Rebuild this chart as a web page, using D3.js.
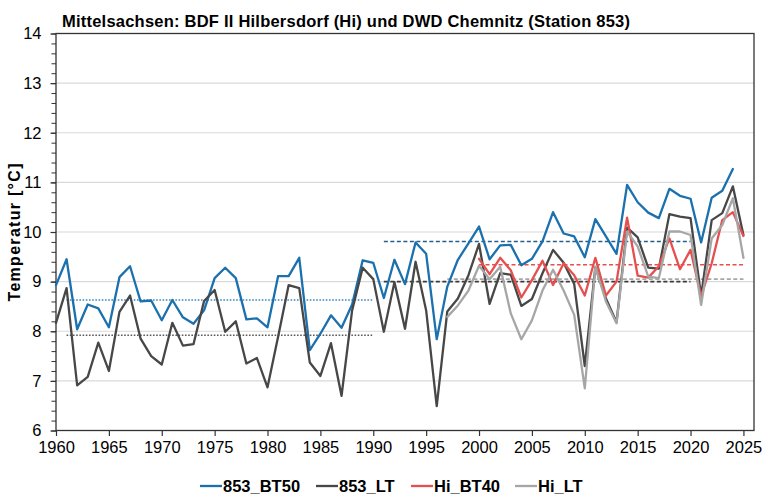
<!DOCTYPE html>
<html><head><meta charset="utf-8">
<script src="https://cdn.jsdelivr.net/npm/d3@7/dist/d3.min.js"></script>
<style>
html,body{margin:0;padding:0;background:#fff;}
svg text{font-family:"Liberation Sans",Arial,sans-serif;fill:#000;}
</style></head>
<body><svg id="c" width="780" height="504"></svg>
<script>
const titleText = "Mittelsachsen: BDF II Hilbersdorf (Hi) und DWD Chemnitz (Station 853)";
const yLabel = "Temperatur [°C]";
const yTicks = [6,7,8,9,10,11,12,13,14];
const xTicks = [1960,1965,1970,1975,1980,1985,1990,1995,2000,2005,2010,2015,2020,2025];

const seriesNames = ["853_BT50","853_LT","Hi_BT40","Hi_LT"];
const seriesStart = [1960,1960,2000,1997];
const bt50_853 = [8.93,9.45,8.04,8.54,8.46,8.08,9.09,9.31,8.60,8.62,
  8.22,8.63,8.28,8.15,8.42,9.07,9.28,9.07,8.24,8.26,
  8.08,9.11,9.11,9.48,7.62,7.95,8.32,8.07,8.54,9.43,
  9.38,8.67,9.44,8.95,9.79,9.56,7.84,8.90,9.44,9.77,
  10.11,9.45,9.73,9.74,9.33,9.46,9.81,10.40,9.97,9.91,
  9.49,10.26,9.91,9.56,10.95,10.60,10.39,10.28,10.87,10.73,
  10.67,9.79,10.69,10.83,11.27];
const lt_853 = [8.17,8.87,6.91,7.08,7.77,7.20,8.39,8.72,7.85,7.50,
  7.33,8.17,7.71,7.74,8.61,8.83,7.99,8.20,7.35,7.46,
  6.87,7.89,8.93,8.87,7.37,7.10,7.76,6.70,8.42,9.28,
  9.05,7.99,8.99,8.05,9.40,8.42,6.49,8.40,8.66,9.13,
  9.76,8.55,9.17,9.14,8.51,8.65,9.17,9.64,9.38,8.95,
  7.30,9.29,8.66,8.18,10.09,9.89,9.28,9.26,10.36,10.31,
  10.28,8.71,10.24,10.38,10.92,9.94];
const bt40_hi = [9.46,9.15,9.48,9.23,8.68,9.03,9.42,8.93,9.37,9.13,
  8.72,9.48,8.72,9.00,10.29,9.12,9.08,9.31,9.87,9.25,
  9.64,8.70,9.37,10.24,10.40,9.92];
const lt_hi = [8.29,8.52,8.82,9.32,9.05,9.30,8.36,7.84,8.22,8.82,
  9.24,8.82,8.33,6.85,9.30,8.60,8.16,10.01,9.71,9.10,
  9.07,10.01,10.01,9.94,8.53,9.87,10.14,10.68,9.48];

// reference-period means
const refSeries = ["853_BT50","853_LT","853_BT50","853_LT","Hi_BT40","Hi_LT"];
const refStart  = [1961,1961,1991,1991,2000,1997];
const refEnd    = [1990,1990,2020,2020,2025,2025];
const refValue  = [8.63,7.92,9.81,9.00,9.34,9.05];

const seriesValues = [bt50_853, lt_853, bt40_hi, lt_hi];
const colors = {"853_BT50":"#1b70ae","853_LT":"#474747","Hi_BT40":"#e5504f","Hi_LT":"#a6a6a6"};
const refStyle = [
  {color:"#3a86bf", dash:"1.6,1.6", w:1.4},
  {color:"#5a5a5a", dash:"1.6,1.6", w:1.4},
  {color:"#245f8c", dash:"4,2.5", w:1.6},
  {color:"#3a3a3a", dash:"4,2.5", w:1.6},
  {color:"#e5504f", dash:"4,2.5", w:1.6},
  {color:"#a6a6a6", dash:"4,2.5", w:1.6}
];

const svg = d3.select("#c");
const L=56, R=754, T=33.5, B=430.5;
const x = d3.scaleLinear().domain([1960,2026]).range([L,R]);
const y = d3.scaleLinear().domain([6,14]).range([B,T]);

// gridlines
svg.append("g").selectAll("line").data(yTicks.filter(v=>v>6 && v<14)).join("line")
  .attr("x1",L).attr("x2",R).attr("y1",d=>y(d)).attr("y2",d=>y(d))
  .attr("stroke","#d9d9d9").attr("stroke-width",1.2);

// y axis
const yMinor = d3.range(6,14.001,0.2).map(v=>+v.toFixed(1));
const yAx = svg.append("g").attr("transform",`translate(${L},0)`)
  .call(d3.axisLeft(y).tickValues(yMinor).tickSize(4.5).tickFormat(""));
yAx.select(".domain").remove();
yAx.selectAll("line").attr("stroke","#333").attr("stroke-width",1);
const yAx2 = svg.append("g").attr("transform",`translate(${L},0)`)
  .call(d3.axisLeft(y).tickValues(yTicks).tickSize(5.5).tickPadding(9).tickFormat(d3.format("d")));
yAx2.select(".domain").remove();
yAx2.selectAll("line").attr("stroke","#333").attr("stroke-width",1.2);
yAx2.selectAll("text").attr("font-size","16.5px").attr("fill","#000")
  .style("font-family","'Liberation Sans',Arial,sans-serif");

// x axis
const xAx = svg.append("g").attr("transform",`translate(0,${B})`)
  .call(d3.axisBottom(x).tickValues(xTicks).tickSize(5.5).tickPadding(5).tickFormat(d3.format("d")));
xAx.select(".domain").remove();
xAx.selectAll("line").attr("stroke","#333").attr("stroke-width",1.2);
xAx.selectAll("text").attr("font-size","16.5px").attr("fill","#000")
  .style("font-family","'Liberation Sans',Arial,sans-serif");

// frame
svg.append("rect").attr("x",L).attr("y",T).attr("width",R-L).attr("height",B-T)
  .attr("fill","none").attr("stroke","#333").attr("stroke-width",1.3);

// reference lines
refValue.forEach((v,i)=>{
  svg.append("line").attr("x1",x(refStart[i])).attr("x2",x(refEnd[i]))
    .attr("y1",y(v)).attr("y2",y(v))
    .attr("stroke",refStyle[i].color).attr("stroke-width",refStyle[i].w)
    .attr("stroke-dasharray",refStyle[i].dash);
});

// series lines
const line = d3.line().x(d=>x(d[0])).y(d=>y(d[1]));
seriesNames.forEach((n,i)=>{
  const pts = seriesValues[i].map((v,k)=>[seriesStart[i]+k, v]);
  svg.append("path").datum(pts).attr("d",line)
    .attr("fill","none").attr("stroke",colors[n]).attr("stroke-width",2.3)
    .attr("stroke-linejoin","round").attr("stroke-linecap","round");
});

// title
svg.append("text").attr("x",62).attr("y",27).attr("font-size","16.5px").attr("font-weight","bold")
  .attr("textLength",568).attr("lengthAdjust","spacing")
  .text(titleText);

// y label
svg.append("text").attr("transform","translate(20,232.5) rotate(-90)").attr("text-anchor","middle")
  .attr("font-size","16px").attr("font-weight","bold")
  .attr("textLength",138).attr("lengthAdjust","spacing").text(yLabel);

// legend
const legX = [200,316,411,515];
const lg = svg.append("g");
seriesNames.forEach((n,i)=>{
  lg.append("line").attr("x1",legX[i]).attr("x2",legX[i]+22).attr("y1",486).attr("y2",486)
    .attr("stroke",colors[n]).attr("stroke-width",2.3);
  lg.append("text").attr("x",legX[i]+23).attr("y",491.5).attr("font-size","16.5px")
    .attr("font-weight","bold").text(n);
});
</script></body></html>
